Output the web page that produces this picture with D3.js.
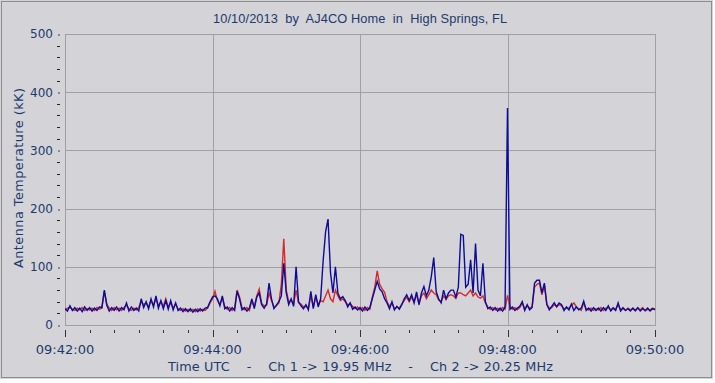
<!DOCTYPE html>
<html><head><meta charset="utf-8">
<script src="https://cdn.jsdelivr.net/npm/d3@7"></script>
<style>html,body{margin:0;padding:0;background:#fff;}svg{display:block;}</style>
</head><body>
<script>
const title = "10/10/2013  by  AJ4CO Home  in  High Springs, FL";
const yTitle = "Antenna Temperature (kK)";
const xTitle = "Time UTC    -    Ch 1 -> 19.95 MHz    -    Ch 2 -> 20.25 MHz";
const xTickLabels = ["09:42:00","09:44:00","09:46:00","09:48:00","09:50:00"];
const xTickSeconds = [0,120,240,360,480];
const yTickValues = [0,100,200,300,400,500];
const sampleStepSec = 2;
// Ch 2 (blue) antenna temperature, kK, one sample every 2 s from 09:42:00
const ch2 = [
28,24,33,25,30,24,29,23,31,25,
30,24,29,25,31,30,60,34,24,30,
25,31,24,30,26,38,24,31,25,29,
24,45,30,40,28,45,31,50,29,42,
28,42,27,42,26,38,25,29,23,28,
23,28,22,27,23,28,24,29,30,40,
48,50,45,33,50,28,31,24,30,25,
58,45,26,30,24,29,45,28,48,55,
35,29,36,72,45,28,34,40,50,106,
55,35,45,32,100,40,33,28,35,26,
58,28,52,31,45,110,160,182,90,55,
100,55,45,49,42,31,38,27,31,26,
30,24,31,25,30,45,60,75,62,57,
45,38,28,40,26,32,27,35,45,52,
42,52,38,57,35,55,66,50,60,83,
116,57,45,38,60,45,55,60,60,48,
65,156,154,65,70,112,55,140,60,50,
106,40,28,31,25,30,24,29,24,31,
373,27,31,25,29,32,40,25,35,26,
30,72,77,77,55,72,35,26,32,38,
31,38,35,25,31,26,36,25,31,26,
29,41,25,29,24,30,25,29,24,30,
25,33,24,29,25,38,24,29,25,28,
24,29,25,30,24,28,25,29,24,28,27];
// Ch 1 (red)
const ch1 = [
26,29,30,27,25,29,26,30,25,28,
26,29,25,30,27,29,58,36,29,25,
30,26,29,25,30,34,28,25,29,26,
30,40,35,38,31,42,34,45,33,40,
32,45,31,38,29,36,28,25,28,24,
27,24,27,23,28,24,27,25,29,38,
45,58,42,35,46,32,27,30,25,29,
60,48,30,26,30,25,42,32,50,62,
37,33,34,55,42,31,33,38,70,148,
60,40,42,36,60,38,36,31,32,29,
50,31,48,35,42,40,50,60,45,40,
60,50,42,45,40,35,36,32,28,31,
26,30,25,30,27,48,65,93,70,62,
56,40,32,38,28,31,29,36,42,48,
40,48,40,52,37,50,55,45,52,60,
55,52,43,40,50,44,50,52,50,46,
55,55,52,50,55,60,50,55,48,46,
50,38,31,27,30,26,29,25,30,27,
51,32,27,30,26,30,38,28,33,29,
31,65,70,72,52,68,36,29,30,35,
32,35,33,28,29,29,34,38,31,28,
25,38,28,26,29,25,28,26,30,25,
29,30,26,30,27,35,26,30,25,29,
26,28,24,29,26,30,24,27,26,29,26];

const W = 715, H = 383;
const bg = "#d4d3d8", txt = "#1c3a6e", grid = "#a0a0a0";
const m = {left:65, right:655, top:34, bottom:325};

const svg = d3.select("body").append("svg").attr("width", W).attr("height", H);
svg.append("rect").attr("width", W).attr("height", H).attr("fill", "#ffffff");
svg.append("rect").attr("x",0).attr("y",0).attr("width",713).attr("height",379).attr("fill", bg);
svg.append("rect").attr("x",1.5).attr("y",1.5).attr("width",710).attr("height",376)
  .attr("fill","none").attr("stroke","#8c8c8c").attr("stroke-width",1);

const x = d3.scaleLinear().domain([0,480]).range([m.left, m.right]);
const y = d3.scaleLinear().domain([0,500]).range([m.bottom, m.top]);

// grid
const g = svg.append("g");
g.selectAll(".vg").data(xTickSeconds.slice(1,-1)).join("line")
  .attr("x1", d=>Math.round(x(d))+0.5).attr("x2", d=>Math.round(x(d))+0.5)
  .attr("y1", m.top).attr("y2", m.bottom).attr("stroke", grid);
g.selectAll(".hg").data(yTickValues.slice(1,-1)).join("line")
  .attr("y1", d=>Math.round(y(d))+0.5).attr("y2", d=>Math.round(y(d))+0.5)
  .attr("x1", m.left).attr("x2", m.right).attr("stroke", grid);
svg.append("rect").attr("x", m.left+0.5).attr("y", m.top+0.5)
  .attr("width", m.right-m.left).attr("height", m.bottom-m.top)
  .attr("fill","none").attr("stroke", grid);

// data lines
svg.append("clipPath").attr("id","c").append("rect")
  .attr("x", m.left).attr("y", m.top).attr("width", m.right-m.left+1).attr("height", m.bottom-m.top);
const line = d3.line().x((d,i)=>x(i*sampleStepSec)).y(d=>y(d));
svg.append("path").datum(ch1).attr("d", line).attr("fill","none")
  .attr("stroke","#d42a2a").attr("stroke-width",1.4).attr("clip-path","url(#c)");
svg.append("path").datum(ch2).attr("d", line).attr("fill","none")
  .attr("stroke","#0c0c98").attr("stroke-width",1.4).attr("clip-path","url(#c)");

// y ticks
const yMinor = d3.range(0, 501, 20).filter(v => v % 100 !== 0);
svg.selectAll(".ymin").data(yMinor).join("line")
  .attr("x1", 57).attr("x2", 60).attr("y1", d=>Math.round(y(d))+0.5).attr("y2", d=>Math.round(y(d))+0.5)
  .attr("stroke", "#222");
svg.selectAll(".ymaj").data(yTickValues).join("line")
  .attr("x1", 58).attr("x2", 60).attr("y1", d=>Math.round(y(d))+1).attr("y2", d=>Math.round(y(d))+1)
  .attr("stroke", "#444");
svg.selectAll(".ylab").data(yTickValues).join("text")
  .attr("x", 53).attr("y", d=>y(d)).attr("dy","0.36em").attr("text-anchor","end")
  .attr("font-family","DejaVu Sans").attr("font-size","12px").attr("fill", txt)
  .text(d=>d);

// x ticks
const xMinor = d3.range(0, 481, 20).filter(v => v % 120 !== 0);
svg.selectAll(".xmin").data(xMinor).join("line")
  .attr("x1", d=>Math.round(x(d))+0.5).attr("x2", d=>Math.round(x(d))+0.5)
  .attr("y1", 330).attr("y2", 333).attr("stroke", "#333");
svg.selectAll(".xmaj").data(xTickSeconds).join("line")
  .attr("x1", d=>Math.round(x(d))+0.5).attr("x2", d=>Math.round(x(d))+0.5)
  .attr("y1", 330).attr("y2", 337).attr("stroke", "#333");
svg.selectAll(".xlab").data(xTickSeconds).join("text")
  .attr("x", d=>x(d)).attr("y", 349).attr("dy","0.36em").attr("text-anchor","middle")
  .attr("font-family","DejaVu Sans").attr("font-size","13px").attr("fill", txt)
  .text((d,i)=>xTickLabels[i]);

// titles
svg.append("text").attr("x", 360).attr("y", 18).attr("dy","0.36em").attr("text-anchor","middle")
  .attr("font-family","Liberation Sans, Arial").attr("font-size","12.8px").attr("fill", txt)
  .attr("textLength", 294).attr("lengthAdjust","spacing")
  .style("white-space","pre").text(title);
svg.append("text").attr("x", 360.5).attr("y", 366).attr("dy","0.36em").attr("text-anchor","middle")
  .attr("font-family","DejaVu Sans").attr("font-size","12.8px").attr("fill", txt)
  .attr("textLength", 385).attr("lengthAdjust","spacing")
  .style("white-space","pre").text(xTitle);
svg.append("text").attr("transform","translate(18.5,178) rotate(-90)").attr("dy","0.36em")
  .attr("text-anchor","middle")
  .attr("font-family","DejaVu Sans").attr("font-size","12.8px").attr("fill", txt)
  .attr("textLength", 180).attr("lengthAdjust","spacing")
  .text(yTitle);
</script>
</body></html>
